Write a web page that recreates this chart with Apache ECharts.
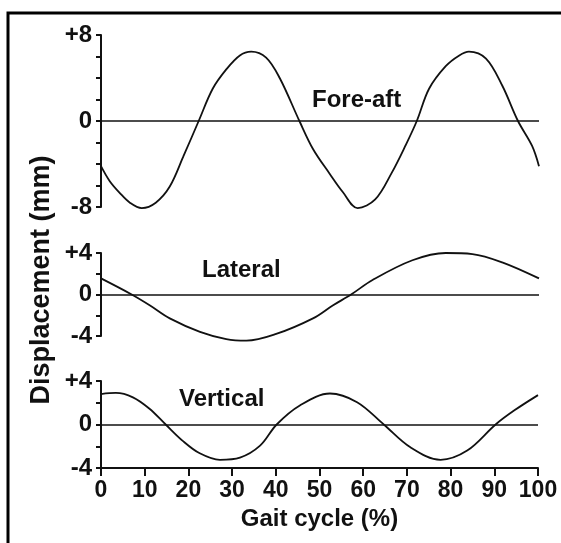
<!DOCTYPE html>
<html>
<head>
<meta charset="utf-8">
<script src="https://cdn.jsdelivr.net/npm/echarts@6/dist/echarts.min.js"></script>
<style>
  html, body { margin: 0; padding: 0; background: #fff; }
  #chart { width: 561px; height: 543px; }
</style>
</head>
<body>
<div id="chart"></div>
<script>
// gait cycle percent ticks
const xTicks = [0, 10, 20, 30, 40, 50, 60, 70, 80, 90, 100];

// curves: [gait cycle %, displacement mm]
const foreAft = [
  [0, -4.2], [2, -5.6], [4.3, -6.7], [6.6, -7.6], [9.3, -8.1], [12.5, -7.6],
  [15.7, -6.1], [18.8, -3.3], [22.3, 0], [25.5, 3.0], [28.6, 4.8], [31.7, 6.1],
  [34.3, 6.45], [37.7, 5.9], [40.8, 4.0], [45.3, 0], [48.4, -2.6], [52.2, -4.9],
  [55.2, -6.6], [58.6, -8.1], [62.6, -7.3], [66.4, -4.8], [69.5, -2.3], [72.1, 0],
  [74.9, 3.0], [78.7, 5.1], [81.8, 6.1], [84, 6.45], [87.9, 5.8], [91.6, 3.3],
  [95.2, 0], [98.4, -2.3], [100, -4.2]
];
const lateral = [
  [0, 1.55], [7, 0], [11.2, -1.06], [15.7, -2.3], [22.6, -3.6], [28.6, -4.3],
  [33.2, -4.45], [40, -3.8], [48.4, -2.3], [52.9, -1.06], [57.1, 0], [62, 1.4],
  [71.1, 3.3], [78.7, 4.0], [84.8, 3.9], [91.6, 3.1], [100, 1.55]
];
const vertical = [
  [0, 2.8], [3.4, 2.9], [7.3, 2.5], [11.1, 1.45], [14.8, 0], [18.7, -1.5],
  [22.6, -2.65], [27.2, -3.25], [31.8, -3.05], [36.4, -1.95], [40.2, 0],
  [45.5, 1.75], [52.4, 2.85], [58.6, 2.05], [64.7, 0], [70.8, -2.1],
  [77.7, -3.25], [83.8, -2.4], [90.3, 0], [94.6, 1.3], [100, 2.7]
];

// y tick labels: [min, zero, max]
const foreAftLabels = ['-8', '0', '+8'];
const lateralLabels = ['-4', '0', '+4'];
const verticalLabels = ['-4', '0', '+4'];
const panelNames = ['Fore-aft', 'Lateral', 'Vertical'];

const font = 'Liberation Sans, Arial, sans-serif';
const ink = '#111';

function yAxis(idx, range, labels) {
  return {
    type: 'value', gridIndex: idx, min: -range, max: range, interval: 2,
    splitLine: { show: false },
    axisLine: { show: true, lineStyle: { color: ink, width: 2 } },
    axisTick: { show: true, length: 5, lineStyle: { color: ink, width: 2 } },
    axisLabel: {
      margin: 9, color: ink, fontFamily: font, fontWeight: 'bold', fontSize: 24,
      formatter: function (v) {
        if (v === -range) return labels[0];
        if (v === 0) return labels[1];
        if (v === range) return labels[2];
        return '';
      }
    }
  };
}

function xAxis(idx, showAxis) {
  return {
    type: 'value', gridIndex: idx, min: 0, max: 100, interval: 10,
    splitLine: { show: false },
    axisLine: { show: showAxis, onZero: false, lineStyle: { color: ink, width: 2 } },
    axisTick: { show: showAxis, length: 8, lineStyle: { color: ink, width: 2 } },
    axisLabel: {
      show: showAxis, margin: 11, color: ink, fontFamily: font, fontWeight: 'bold', fontSize: 23
    },
    name: showAxis ? 'Gait cycle (%)' : '',
    nameLocation: 'middle', nameGap: 39,
    nameTextStyle: { color: ink, fontFamily: font, fontWeight: 'bold', fontSize: 24 }
  };
}

function curve(idx, data) {
  return {
    type: 'line', xAxisIndex: idx, yAxisIndex: idx, data: data,
    smooth: 0.35, showSymbol: false, silent: true, clip: false,
    lineStyle: { color: ink, width: 1.8 },
    markLine: {
      silent: true, symbol: 'none', label: { show: false },
      lineStyle: { color: ink, width: 1.6, type: 'solid' },
      data: [{ yAxis: 0 }]
    }
  };
}

function panelText(name, x, y) {
  return {
    type: 'text', left: x, top: y,
    style: { text: name, fill: ink, font: 'bold 24px ' + font }
  };
}

let myChart = echarts.init(document.getElementById('chart'));
myChart.setOption({
  animation: false,
  backgroundColor: '#fff',
  grid: [
    { left: 101, right: 22, top: 35, height: 172 },
    { left: 101, right: 22, top: 253, height: 83 },
    { left: 101, right: 23, top: 381, height: 87 }
  ],
  xAxis: [xAxis(0, false), xAxis(1, false), xAxis(2, true)],
  yAxis: [
    yAxis(0, 8, foreAftLabels),
    yAxis(1, 4, lateralLabels),
    yAxis(2, 4, verticalLabels)
  ],
  series: [curve(0, foreAft), curve(1, lateral), curve(2, vertical)],
  graphic: [
    {
      type: 'rect', silent: true,
      shape: { x: 8, y: 13, width: 700, height: 700 },
      style: { fill: 'none', stroke: '#000', lineWidth: 3 }
    },
    {
      type: 'text', x: 42, y: 280, rotation: Math.PI / 2,
      style: {
        text: 'Displacement (mm)', fill: ink, font: 'bold 27px ' + font,
        textAlign: 'center', textVerticalAlign: 'middle'
      }
    },
    panelText(panelNames[0], 312, 88),
    panelText(panelNames[1], 202, 258),
    panelText(panelNames[2], 179, 387)
  ]
});
</script>
</body>
</html>
